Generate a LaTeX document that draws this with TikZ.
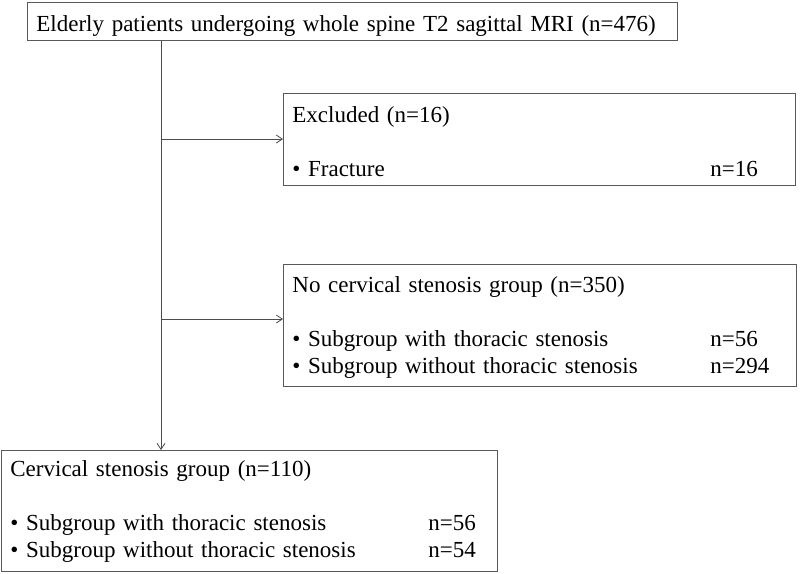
\documentclass[tikz,border=0pt]{standalone}
\usepackage{fontspec}
\setmainfont[WordSpace=0.8]{Liberation Serif}
\usetikzlibrary{arrows.meta}

\tikzset{
  flowbox/.style   = {shape=rectangle, draw=black!65, line width=0.8pt,
                      anchor=north west, align=left,
                      inner xsep=9pt, inner ysep=0pt},
  flowarrow/.style = {draw=black!70, line width=0.8pt,
                      -{Straight Barb[length=6pt,width=8pt]}},
  flowline/.style  = {draw=black!70, line width=0.8pt}
}
% first/last line struts and the "bullet ... n=" rows
\newcommand{\topstrut}[1]{\rule{0pt}{#1}}
\newcommand{\botstrut}[1]{\rule[-#1]{0pt}{0pt}}
\newcommand{\countrow}[2]{\makebox[418pt][l]{\textbullet\ #1}#2}

\begin{document}
\begin{tikzpicture}
[
    x=1pt, y=-1pt,
    every node/.style = {font=\fontsize{23}{27}\selectfont}
  ]
\useasboundingbox (0,0) rectangle (800,573);

\node[flowbox, text width=632pt] (elderly) at (27,2)
  {\topstrut{29pt}Elderly patients undergoing whole spine T2 sagittal MRI (n=476)\botstrut{9pt}};

\node[flowbox, text width=494pt] (excluded) at (283,93)
  {\topstrut{29pt}Excluded (n=16)\\[27pt]
   \countrow{Fracture}{n=16}\botstrut{9pt}};

\node[flowbox, text width=495pt] (nocervical) at (283,264)
  {\topstrut{28pt}No cervical stenosis group (n=350)\\[27pt]
   \countrow{Subgroup with thoracic stenosis}{n=56}\\
   \countrow{Subgroup without thoracic stenosis}{n=294}\botstrut{13pt}};

\node[flowbox, text width=478pt] (cervical) at (1,450)
  {\topstrut{26pt}Cervical stenosis group (n=110)\\[27pt]
   \countrow{Subgroup with thoracic stenosis}{n=56}\\
   \countrow{Subgroup without thoracic stenosis}{n=54}\botstrut{14pt}};

% trunk and branches
\coordinate (trunk) at (161,0);
\coordinate (branch1) at (161,139);
\coordinate (branch2) at (161,319);

\draw[flowarrow] (elderly.south -| trunk) -- (cervical.north -| trunk);
\draw[flowarrow] (branch1) -- (excluded.west |- branch1);
\draw[flowarrow] (branch2) -- (nocervical.west |- branch2);
\end{tikzpicture}
\end{document}
